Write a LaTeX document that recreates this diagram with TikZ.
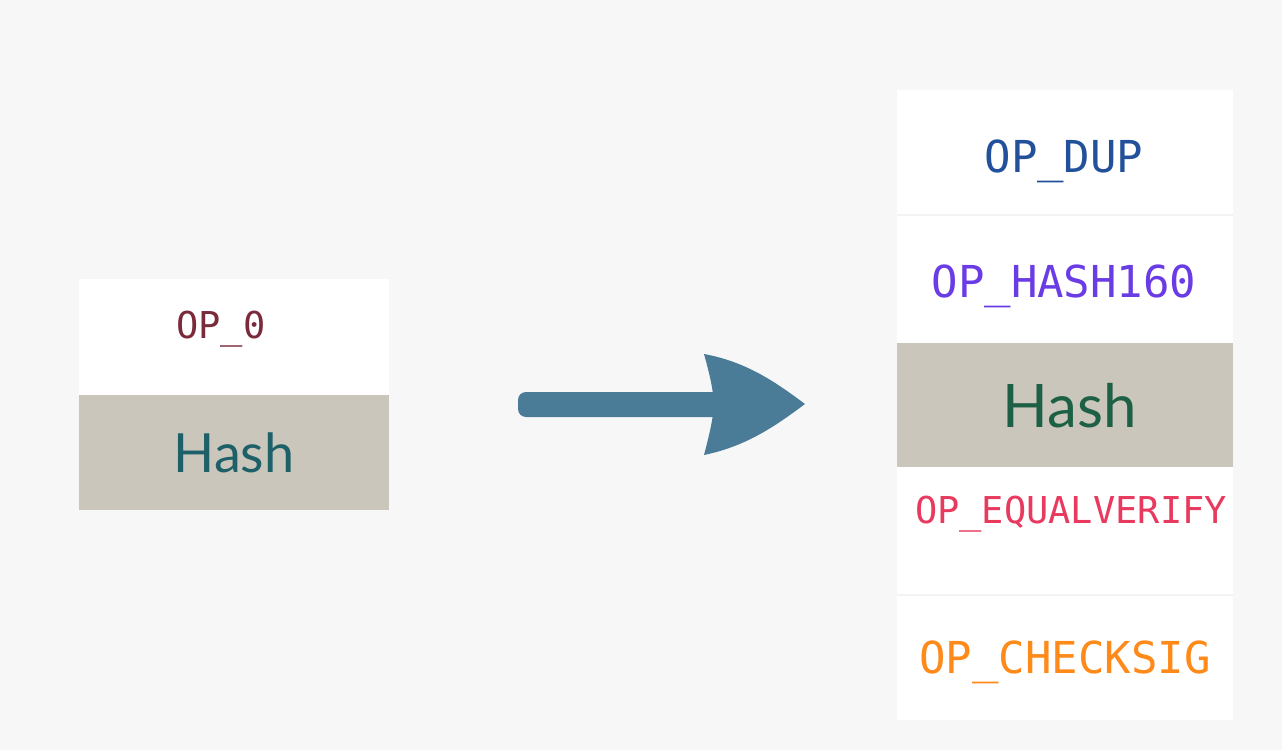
\documentclass[tikz,border=0pt]{standalone}
\usepackage{fontspec}
\newfontfamily\opfont{DejaVu Sans Mono}
\newfontfamily\hashfont{Lato}
\definecolor{pagebg}{HTML}{F7F7F7}
\definecolor{cellline}{HTML}{F3F3F3}
\definecolor{hashbg}{HTML}{CBC6BB}
\definecolor{arrowcol}{HTML}{4A7B97}
\definecolor{opzerocol}{HTML}{7A2A3A}
\definecolor{hashleftcol}{HTML}{1D6068}
\definecolor{dupcol}{HTML}{22509A}
\definecolor{hashonesixtycol}{HTML}{6A3CE6}
\definecolor{hashrightcol}{HTML}{1E6045}
\definecolor{equalcol}{HTML}{E83A5E}
\definecolor{checksigcol}{HTML}{FF8A1A}
\tikzset{
  opsmall/.style={font=\opfont\fontsize{18.5}{20}\selectfont},
  oplarge/.style={font=\opfont\fontsize{22}{24}\selectfont},
  hashtext/.style={font=\hashfont\fontsize{#1}{#1}\selectfont},
  cellwhite/.style={fill=white},
  cellhash/.style={fill=hashbg},
  cellsep/.style={draw=cellline, line width=0.6pt}
}
\begin{document}
\begin{tikzpicture}[x=0.5pt, y=-0.5pt, every node/.style={inner sep=0pt, anchor=base}]
  % 1. background
  \fill[pagebg] (0,0) rectangle (1282,750);
  \useasboundingbox (0,0) rectangle (1282,750);

  % 2. left stack
  \fill[cellwhite] (79,279) rectangle (389,395);
  \fill[cellhash] (79,395) rectangle (389,510);
  \node[opsmall, text=opzerocol] (opzero) at (221,338) {OP\_0};
  \node[hashtext=27, text=hashleftcol] (hashleft) at (234,472) {Hash};

  % 3. arrow
  \coordinate (arrtail) at (518,404.5);
  \coordinate (arrtip) at (805,404);
  \fill[arrowcol, rounded corners=4pt] ([yshift=6.25pt]arrtail) rectangle (745,417);
  \fill[arrowcol] (704,354) .. controls (748,362) and (778,384) .. (arrtip)
    .. controls (778,424) and (748,446) .. (704,455)
    .. controls (709,436) and (713,420) .. (714,404)
    .. controls (713,388) and (709,372) .. (704,354) -- cycle;

  % 4. right stack
  \fill[cellwhite] (897,90) rectangle (1233,343);
  \fill[cellhash] (897,343) rectangle (1233,467);
  \fill[cellwhite] (897,467) rectangle (1233,720);
  \draw[cellsep] (897,215) -- (1233,215);
  \draw[cellsep] (897,595) -- (1233,595);
  \node[oplarge, text=dupcol] (opdup) at (1064,172) {OP\_DUP};
  \node[oplarge, text=hashonesixtycol] (ophash) at (1064,297) {OP\_HASH160};
  \node[hashtext=30, text=hashrightcol] (hashright) at (1070,427) {Hash};
  \node[opsmall, text=equalcol] (opequal) at (1071,523) {OP\_EQUALVERIFY};
  \node[oplarge, text=checksigcol] (opchecksig) at (1065,673) {OP\_CHECKSIG};
\end{tikzpicture}
\end{document}
